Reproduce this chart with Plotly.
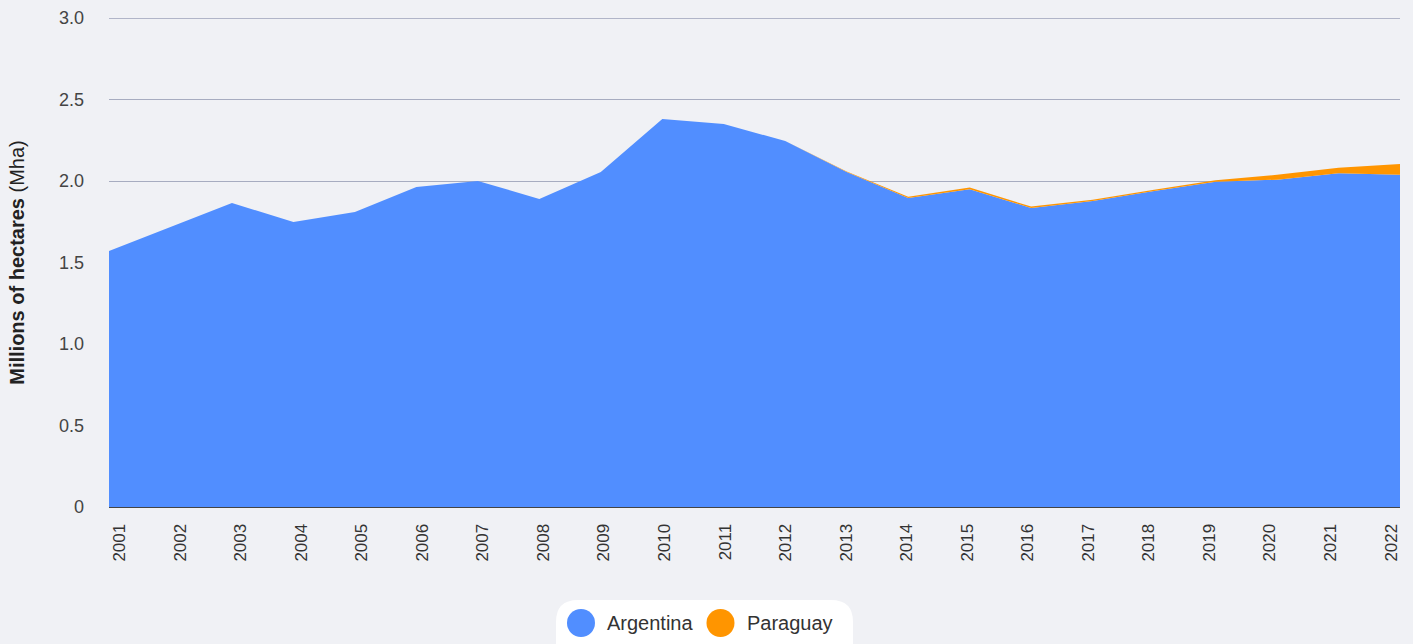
import plotly.graph_objects as go

years = [2001, 2002, 2003, 2004, 2005, 2006, 2007, 2008, 2009, 2010, 2011,
         2012, 2013, 2014, 2015, 2016, 2017, 2018, 2019, 2020, 2021, 2022]
argentina = [1.571, 1.72, 1.865, 1.748, 1.81, 1.963, 2.0, 1.89, 2.055, 2.38, 2.35,
             2.245, 2.055, 1.895, 1.95, 1.835, 1.877, 1.938, 1.995, 2.008, 2.047, 2.039]
paraguay = [0, 0, 0, 0, 0, 0, 0, 0, 0, 0, 0,
            0, 0.003, 0.009, 0.01, 0.008, 0.008, 0.009, 0.01, 0.03, 0.035, 0.065]
series_names = ["Argentina", "Paraguay"]
colors = ["#518EFF", "#FF9500"]
y_ticks = [0, 0.5, 1.0, 1.5, 2.0, 2.5, 3.0]
y_ticklabels = ["0", "0.5", "1.0", "1.5", "2.0", "2.5", "3.0"]

FONT = "Liberation Sans, Arial, sans-serif"
GRID = "#A7ACC0"

L, R, T, B = 109, 1400, 18, 507
W, H = 1413, 644

# The source chart spreads its year labels evenly over a slightly narrower
# band than the data points; reproduce that label placement (pixels).
LABEL_START_PX, LABEL_STEP_PX = 119.5, 60.55
px_per_year = (R - L) / (years[-1] - years[0])
label_pos = [years[0] + (LABEL_START_PX + LABEL_STEP_PX * i - L) / px_per_year
             for i in range(len(years))]

fig = go.Figure()
fig.add_trace(go.Scatter(x=years, y=argentina, name=series_names[0], mode="lines",
                         stackgroup="one", line=dict(color=colors[0], width=0),
                         fillcolor=colors[0], showlegend=False))
fig.add_trace(go.Scatter(x=years, y=paraguay, name=series_names[1], mode="lines",
                         stackgroup="one", line=dict(color=colors[1], width=0),
                         fillcolor=colors[1], showlegend=False))

fig.update_layout(
    width=W, height=H,
    margin=dict(l=L, r=W - R, t=T, b=H - B),
    paper_bgcolor="#F0F1F5", plot_bgcolor="#F0F1F5",
    font=dict(family=FONT, color="#333333", size=16),
    showlegend=False,
    xaxis=dict(range=[years[0], years[-1]], tickvals=label_pos, ticktext=[str(y) for y in years],
               tickangle=-90, showgrid=False, zeroline=False, showline=True,
               linecolor="#444444", linewidth=1, ticks="", ticklabelstandoff=9,
               automargin=False, tickfont=dict(size=17, color="#333333")),
    yaxis=dict(range=[0, 3.0], tickvals=y_ticks, ticktext=y_ticklabels,
               showgrid=True, gridcolor=GRID, gridwidth=1.2, zeroline=False,
               showline=False, ticks="", ticklabelstandoff=24, automargin=False,
               tickfont=dict(size=18, color="#444444"),
               title=dict(text="<b>Millions of hectares</b> (Mha)",
                          font=dict(size=20, color="#222222"), standoff=28)),
)

# Custom legend (rounded white pill with circular markers), positioned in pixels
def px_x(px):
    return (px - L) / (R - L)

def px_y(py):
    return (B - py) / (B - T)

shapes = [dict(type="line", xref="paper", yref="y", x0=0, x1=1, y0=y_ticks[-1], y1=y_ticks[-1],
               layer="below", line=dict(color="#9CA1B8", width=1.3))]

lx0, lx1, ly0, ly1 = 556, 853, 600, 660
r = 22
pts = [("M", lx0 + r, ly0), ("L", lx1 - r, ly0), ("Q", lx1, ly0), ("", lx1, ly0 + r),
       ("L", lx1, ly1), ("L", lx0, ly1), ("L", lx0, ly0 + r), ("Q", lx0, ly0), ("", lx0 + r, ly0)]
path = " ".join(f"{c} {px_x(x):.6f},{px_y(y):.6f}".strip() for c, x, y in pts) + " Z"
shapes.append(dict(type="path", xref="paper", yref="paper", layer="above", path=path,
                   fillcolor="#FFFFFF", line=dict(width=0)))
items = [(581, 605, series_names[0], colors[0]), (720.5, 745, series_names[1], colors[1])]
annotations = []
cy, rad = 623, 14
for cx, tx, name, col in items:
    shapes.append(dict(type="circle", xref="paper", yref="paper", layer="above",
                       x0=px_x(cx - rad), x1=px_x(cx + rad), y0=px_y(cy + rad), y1=px_y(cy - rad),
                       fillcolor=col, line=dict(width=0)))
    annotations.append(dict(text=name, xref="paper", yref="paper", x=px_x(tx), y=px_y(cy),
                            xanchor="left", yanchor="middle", showarrow=False,
                            font=dict(size=20, color="#333333", family=FONT)))
fig.update_layout(shapes=shapes, annotations=annotations)

fig.write_html("out.html", config={"displayModeBar": False},
               post_script="document.body.style.margin='0';")
